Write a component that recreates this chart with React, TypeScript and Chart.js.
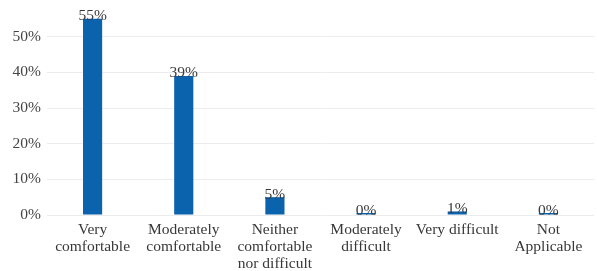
import React, { useEffect, useRef } from "react";
import { Chart, registerables } from "chart.js";

Chart.register(...registerables);

const categories: (string | string[])[] = [
  ["Very", "comfortable"],
  ["Moderately", "comfortable"],
  ["Neither", "comfortable", "nor difficult"],
  ["Moderately", "difficult"],
  "Very difficult",
  ["Not", "Applicable"],
];
const values = [0.55, 0.39, 0.05, 0.0, 0.01, 0.0];
const valueLabels = ["55%", "39%", "5%", "0%", "1%", "0%"];
const yTicks = [0, 0.1, 0.2, 0.3, 0.4, 0.5];

const FONT = "'Liberation Serif', 'Times New Roman', serif";

const labelPlugin = {
  id: "valueLabels",
  afterDatasetsDraw(chart: any) {
    const ctx = chart.ctx;
    const meta = chart.getDatasetMeta(0);
    ctx.save();
    ctx.font = `15.5px ${FONT}`;
    ctx.fillStyle = "#3a3a3a";
    ctx.textAlign = "center";
    ctx.textBaseline = "alphabetic";
    meta.data.forEach((bar: any, i: number) => {
      ctx.fillText(valueLabels[i], bar.x, bar.y + 1.5);
    });
    ctx.restore();
  },
};

export default function App() {
  const ref = useRef<HTMLCanvasElement>(null);
  useEffect(() => {
    document.body.style.margin = "0";
    const chart = new Chart(ref.current!, {
      type: "bar",
      data: {
        labels: categories,
        datasets: [
          {
            data: values,
            backgroundColor: "#0b63ad",
            barPercentage: 0.21,
            categoryPercentage: 1,
            minBarLength: 2,
          },
        ],
      },
      plugins: [labelPlugin],
      options: {
        animation: false,
        responsive: false,
        devicePixelRatio: 1,
        layout: { padding: { left: 12, right: 3, top: 1, bottom: 0 } },
        plugins: { legend: { display: false }, tooltip: { enabled: false } },
        scales: {
          x: {
            grid: { display: false, drawTicks: false },
            border: { display: false },
            afterFit: (axis: any) => {
              axis.height = 56;
              axis.paddingLeft = 0;
              axis.paddingRight = 0;
            },
            ticks: {
              color: "#383838",
              font: { family: FONT, size: 15.5, lineHeight: "17px" },
              maxRotation: 0,
              autoSkip: false,
              padding: 6,
            },
          },
          y: {
            min: 0,
            max: 0.6,
            afterBuildTicks: (axis: any) => {
              axis.ticks = yTicks.map((v) => ({ value: v }));
            },
            afterFit: (axis: any) => {
              axis.width = 35;
              axis.paddingTop = 0;
              axis.paddingBottom = 0;
            },
            grid: {
              color: "#ececec",
              drawTicks: false,
            },
            border: { display: false },
            ticks: {
              color: "#444",
              font: { family: FONT, size: 15.5 },
              padding: 6,
              callback: (v: any) => Math.round(Number(v) * 100) + "%",
            },
          },
        },
      },
    });
    return () => chart.destroy();
  }, []);
  return <canvas ref={ref} width={597} height={271} style={{ display: "block" }} />;
}
